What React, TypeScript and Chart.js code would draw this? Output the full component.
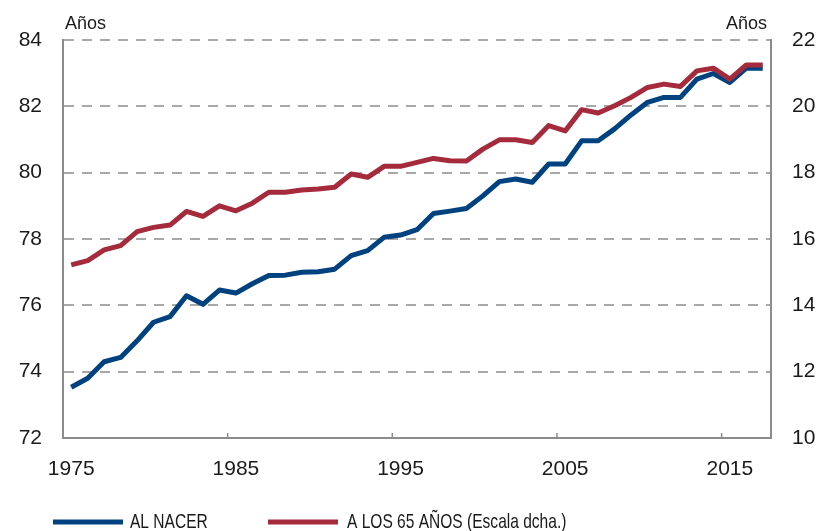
import React, { useEffect, useRef } from "react";
import { Chart, registerables } from "chart.js";

Chart.register(...registerables);

// ---- Data ----
const years = [
  "1975", "1976", "1977", "1978", "1979", "1980", "1981", "1982", "1983", "1984",
  "1985", "1986", "1987", "1988", "1989", "1990", "1991", "1992", "1993", "1994",
  "1995", "1996", "1997", "1998", "1999", "2000", "2001", "2002", "2003", "2004",
  "2005", "2006", "2007", "2008", "2009", "2010", "2011", "2012", "2013", "2014",
  "2015", "2016", "2017",
];

// Esperanza de vida al nacer (eje izquierdo)
const alNacer = [
  73.53, 73.80, 74.30, 74.43, 74.93, 75.49, 75.66, 76.29, 76.03, 76.46,
  76.37, 76.65, 76.90, 76.91, 77.00, 77.01, 77.09, 77.50, 77.65, 78.05,
  78.12, 78.28, 78.77, 78.84, 78.92, 79.30, 79.73, 79.81, 79.71, 80.26,
  80.26, 80.96, 80.96, 81.32, 81.74, 82.12, 82.27, 82.27, 82.82, 82.99,
  82.72, 83.15, 83.15,
];

// Esperanza de vida a los 65 años (eje derecho)
const aLos65 = [
  15.22, 15.35, 15.67, 15.80, 16.22, 16.35, 16.42, 16.83, 16.68, 17.00,
  16.85, 17.08, 17.41, 17.41, 17.48, 17.51, 17.56, 17.96, 17.86, 18.19,
  18.19, 18.31, 18.43, 18.36, 18.35, 18.71, 18.99, 18.99, 18.91, 19.42,
  19.26, 19.90, 19.80, 20.02, 20.27, 20.57, 20.67, 20.60, 21.07, 21.15,
  20.82, 21.25, 21.25,
];

const xTickYears = ["1975", "1985", "1995", "2005", "2015"];
const leftAxisRange = [72, 84];
const rightAxisRange = [10, 22];
const axisStep = 2;
const seriesNames = ["AL NACER", "A LOS 65 AÑOS (Escala dcha.)"];
const unitLabel = "Años";

const BLUE = "#00427f";
const RED = "#a52a3b";
const AXIS = "#8c8c8c";
const GRID = "#a8a8a8";
const TEXT = "#1a1a1a";
const FONT = "'Liberation Sans', Arial, Helvetica, sans-serif";

const overlayPlugin = {
  id: "overlay",
  afterDraw(chart: any) {
    const ctx = chart.ctx as CanvasRenderingContext2D;
    const xs = chart.scales.x;
    const area = chart.chartArea;
    ctx.save();

    // small inward tick marks on the x axis (category boundaries)
    const half = (xs.getPixelForValue(1) - xs.getPixelForValue(0)) / 2;
    ctx.strokeStyle = AXIS;
    ctx.lineWidth = 1.5;
    xTickYears.forEach((y) => {
      const idx = years.indexOf(y);
      const x = xs.getPixelForValue(idx) - half;
      if (x <= area.left + 2) return;
      ctx.beginPath();
      ctx.moveTo(x, area.bottom);
      ctx.lineTo(x, area.bottom - 5);
      ctx.stroke();
    });

    // unit labels
    ctx.fillStyle = TEXT;
    ctx.font = `18px ${FONT}`;
    ctx.textBaseline = "alphabetic";
    ctx.textAlign = "left";
    ctx.fillText(unitLabel, area.left + 2, 29);
    ctx.textAlign = "right";
    ctx.fillText(unitLabel, area.right - 4, 29);

    // legend
    const legendY = 522;
    const items = [
      { name: seriesNames[0], color: BLUE, x0: 53, x1: 123, tx: 130 },
      { name: seriesNames[1], color: RED, x0: 268, x1: 338, tx: 347 },
    ];
    items.forEach((it) => {
      ctx.strokeStyle = it.color;
      ctx.lineWidth = 5;
      ctx.beginPath();
      ctx.moveTo(it.x0, legendY);
      ctx.lineTo(it.x1, legendY);
      ctx.stroke();
      ctx.save();
      ctx.translate(it.tx, 0);
      ctx.scale(0.74, 1);
      ctx.fillStyle = TEXT;
      ctx.font = `21px ${FONT}`;
      ctx.textAlign = "left";
      ctx.textBaseline = "alphabetic";
      ctx.fillText(it.name, 0, 528);
      ctx.restore();
    });

    ctx.restore();
  },
};

export default function App() {
  const canvasRef = useRef<HTMLCanvasElement | null>(null);

  useEffect(() => {
    document.body.style.margin = "0";
    const canvas = canvasRef.current;
    if (!canvas) return;
    const chart = new Chart(canvas, {
      type: "line",
      data: {
        labels: years,
        datasets: [
          {
            label: seriesNames[0],
            data: alNacer,
            yAxisID: "y",
            borderColor: BLUE,
            backgroundColor: BLUE,
            borderWidth: 5,
            pointRadius: 0,
            tension: 0,
            borderJoinStyle: "round",
            order: 1,
          },
          {
            label: seriesNames[1],
            data: aLos65,
            yAxisID: "y1",
            borderColor: RED,
            backgroundColor: RED,
            borderWidth: 5,
            pointRadius: 0,
            tension: 0,
            borderJoinStyle: "round",
            order: 0,
          },
        ],
      },
      options: {
        responsive: false,
        animation: false,
        layout: { padding: { top: 40, left: 0, right: 0, bottom: 0 } },
        plugins: {
          legend: { display: false },
          tooltip: { enabled: false },
        },
        scales: {
          x: {
            type: "category",
            offset: true,
            grid: { display: false, drawTicks: false },
            border: { display: true, color: AXIS, width: 2 },
            ticks: {
              autoSkip: false,
              maxRotation: 0,
              padding: 19,
              color: TEXT,
              font: { size: 21, family: FONT },
              callback: (_v: any, i: number) =>
                xTickYears.includes(years[i]) ? years[i] : "",
            },
            afterFit: (s: any) => {
              s.height = 93;
            },
          },
          y: {
            position: "left",
            min: leftAxisRange[0],
            max: leftAxisRange[1],
            ticks: {
              stepSize: axisStep,
              padding: 21,
              color: TEXT,
              font: { size: 21, family: FONT },
            },
            grid: {
              color: (c: any) =>
                c.tick && c.tick.value === leftAxisRange[0] ? "rgba(0,0,0,0)" : GRID,
              lineWidth: 2,
              drawTicks: false,
            },
            border: { display: true, color: AXIS, width: 2, dash: [10, 8] },
            afterFit: (s: any) => {
              s.width = 63;
            },
          },
          y1: {
            position: "right",
            min: rightAxisRange[0],
            max: rightAxisRange[1],
            ticks: {
              stepSize: axisStep,
              padding: 21,
              color: TEXT,
              font: { size: 21, family: FONT },
            },
            grid: { display: false, drawTicks: false },
            border: { display: true, color: AXIS, width: 2 },
            afterFit: (s: any) => {
              s.width = 52;
            },
          },
        },
      } as any,
      plugins: [overlayPlugin],
    });
    return () => chart.destroy();
  }, []);

  return (
    <div style={{ width: 823, height: 531, background: "#fff" }}>
      <canvas ref={canvasRef} width={823} height={531} style={{ display: "block" }} />
    </div>
  );
}
